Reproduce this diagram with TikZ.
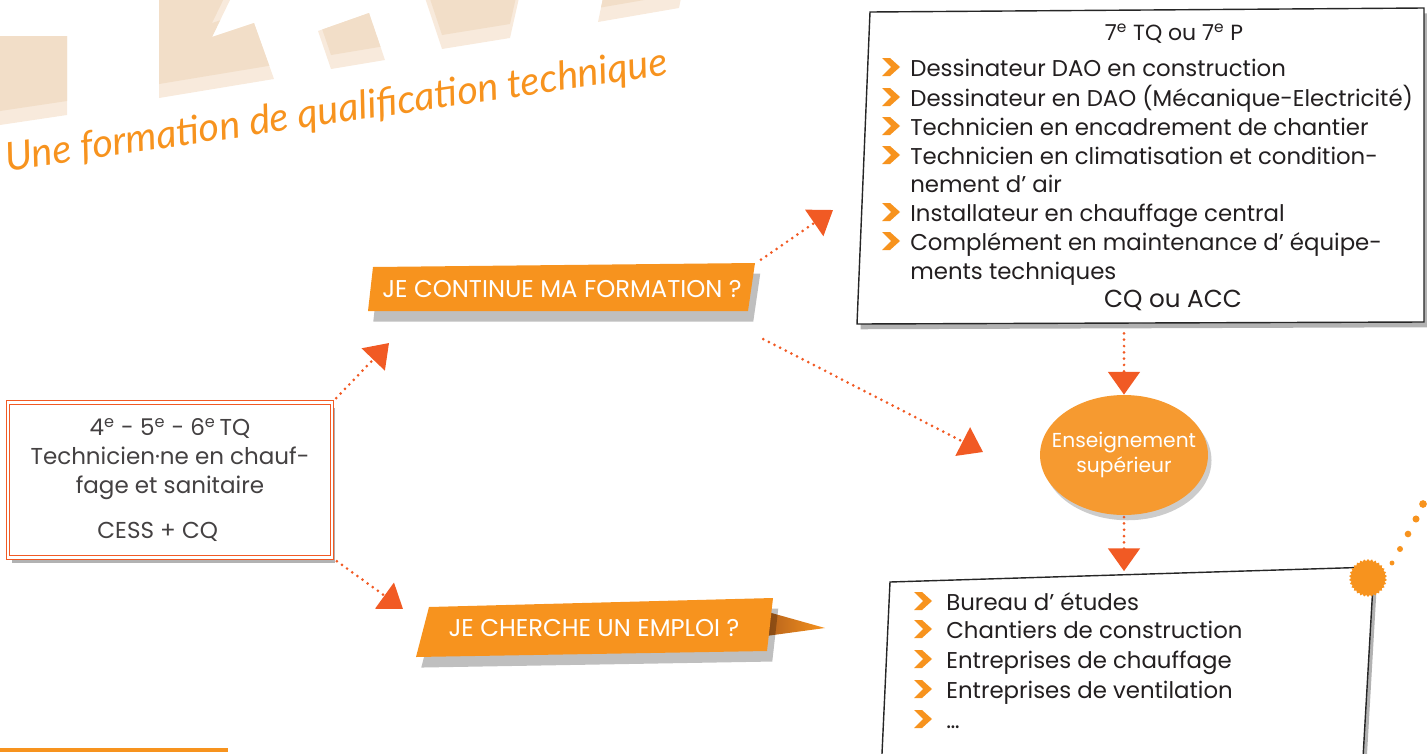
\documentclass[tikz,border=0pt]{standalone}
\usepackage{fontspec}
\setmainfont{Poppins}
\newfontfamily\mainlevee{Lato}
\usetikzlibrary{arrows.meta,shapes.geometric,shadows}

\definecolor{orangevif}{HTML}{F7931E}
\definecolor{orangerouge}{HTML}{F15A24}
\definecolor{orangebulle}{HTML}{F69A30}
\definecolor{beige}{HTML}{F2DEC8}
\definecolor{beigeclair}{HTML}{F8EADC}
\definecolor{encre}{HTML}{231F20}
\definecolor{brunqueue}{HTML}{B5621C}

%% tuile beige du fond, avec sa bande claire en bas
\newcommand{\tuile}[1]{%
  \fill[beigeclair] #1;
  \begin{scope}
    \clip #1;
    \fill[beige,shift={(0,-14)}] #1;
  \end{scope}}

\begin{document}
\begin{tikzpicture}
[x=0.02cm,y=-0.02cm,
 ombre/.style={drop shadow={shadow xshift=2pt,shadow yshift=-3pt,opacity=0.3,fill=black}},
 cadredouble/.style={draw=orangerouge,double=white,double distance=1.3pt,line width=0.7pt,
   fill=white,ombre,align=center,text=encre!85,inner sep=0pt},
 boite/.style={draw=black!85,line width=0.8pt,fill=white,ombre},
 bandeau/.style={fill=orangevif,drop shadow={shadow xshift=3pt,shadow yshift=-6pt,opacity=0.25,fill=black}},
 bandeautexte/.style={text=white,font=\fontsize{13.8}{16}\selectfont,inner sep=0pt},
 ligne/.style={anchor=base west,inner sep=0pt,text=encre,font=\fontsize{13}{15}\selectfont},
 centre/.style={anchor=base,inner sep=0pt,text=encre,font=\fontsize{12.5}{15}\selectfont},
 puce/.style={fill=orangevif},
 fleche/.style={draw=orangerouge,line width=1.7pt,line cap=round,dash pattern=on 0pt off 3.6pt,
   -{Triangle[width=18pt,length=13pt]},shorten <=3pt}]
\useasboundingbox (0,0) rectangle (1427,754);

%% fond : tuiles et titre
\tuile{(0,36)--(67,36)--(67,115)--(0,125)--cycle}
\tuile{(159,-2)--(231,-2)--(212,37)--(254,23)--(274,79)--(159,98)--cycle}
\tuile{(318,31)--(369,13)--(385,60)--(331,69)--cycle}
\tuile{(425,-2)--(519,-2)--(510,38)--(442,49)--cycle}
\tuile{(603,-2)--(681,-2)--(679,8)--(598,22)--cycle}
\node[anchor=base,rotate=8.3,inner sep=0pt,text=orangevif,
  font=\mainlevee\itshape\fontsize{22.5}{26}\selectfont] (titre) at (338,123)
  {Une formation de qualification technique};
\draw[orangevif,line width=2.3pt] (0,750) -- (228,750);

%% depart
\node[cadredouble,minimum width=6.48cm,minimum height=3.1cm,
  font=\fontsize{13.1}{16.5}\selectfont] (depart) at (170,480)
  {4\textsuperscript{e} - 5\textsuperscript{e} - 6\textsuperscript{e}\,TQ\\
   Technicien·ne en chauf-\\fage et sanitaire\\[9pt]CESS + CQ\kern14pt};

%% bandeaux
\fill[bandeau] (373,267) -- (755,263) -- (748,311) -- (368,311) -- cycle;
\node[bandeautexte,minimum width=7.6cm,minimum height=0.92cm] (continuer) at (562,289)
  {JE CONTINUE MA FORMATION ?};
\shade[left color=brunqueue,right color=orangevif] (768,612) -- (825,628) -- (766,636) -- cycle;
\fill[bandeau] (429,607) -- (773,598) -- (767,651) -- (416,657) -- cycle;
\node[bandeautexte] (chercher) at (594,628) {JE CHERCHE UN EMPLOI ?};

%% suite des etudes
\draw[boite] (870,12) -- (1424,8) -- (1424,322) -- (857,324) -- cycle;
\node[minimum width=11.34cm,minimum height=6.26cm,inner sep=0pt] (suite) at (1140,166) {};
\node[centre] (annee) at (1174,40) {7\textsuperscript{e} TQ ou 7\textsuperscript{e} P};
\foreach \y/\texte in {76/Dessinateur DAO en construction,
  106/Dessinateur en DAO (Mécanique-Electricité),
  135/Technicien en encadrement de chantier,
  164/Technicien en climatisation et condition-, 192/nement d’ air,
  221/Installateur en chauffage central,
  250/Complément en maintenance d’ équipe-, 279/ments techniques} {
  \node[ligne] (haut\y) at (910,\y) {\texte};
}
\foreach \y in {76,106,135,164,221,250}
  \fill[puce,shift={(891,\y-9)}] (-9,-9) -- (-1,-9) -- (9,0) -- (-1,9) -- (-9,9) -- (0,0) -- cycle;
\node[centre,font=\fontsize{14}{16}\selectfont] (titre2) at (1173,307) {CQ ou ACC};

%% enseignement superieur
\node[ellipse,fill=orangebulle,minimum width=3.36cm,minimum height=2.4cm,
  inner xsep=-7.5pt,inner ysep=0pt,
  drop shadow={shadow xshift=2pt,shadow yshift=-3pt,opacity=0.2,fill=black},
  text=white,align=center,font=\fontsize{11.5}{14}\selectfont] (sup) at (1124,455)
  {Enseignement\\supérieur};

%% debouches
\draw[boite] (890,582) -- (1374,567) -- (1362,775) -- (881,775) -- cycle;
\node[minimum width=9.7cm,minimum height=3.8cm,inner sep=0pt] (debouches) at (1127,670) {};
\foreach \y/\texte in {610/Bureau d’ études, 638/Chantiers de construction,
  668/Entreprises de chauffage, 698/Entreprises de ventilation, 728/{\ldots}} {
  \node[ligne] (bas\y) at (946,\y) {\texte};
  \fill[puce,shift={(923,\y-9)}] (-9,-9) -- (-1,-9) -- (9,0) -- (-1,9) -- (-9,9) -- (0,0) -- cycle;
}
\node[star,star points=30,star point ratio=1.12,fill=orangevif,minimum size=0.76cm,
  inner sep=0pt] (tache) at (1368,578) {};
\foreach \x/\y/\r in {1392/563/1.4, 1400/549/1.7, 1408/534/1.9, 1416/519/2.0, 1423/504/2.2}
  \fill[orangevif] (\x,\y) circle (\r pt);

%% fleches
\coordinate (versCont) at (389,343);
\coordinate (versEmploi) at (403,609);
\coordinate (versSuite) at (833,210);
\coordinate (versSup) at (983,452);
\draw[fleche] (depart.north east) -- (versCont);
\draw[fleche] (depart.south east) -- (versEmploi);
\draw[fleche,shorten <=6pt] (continuer.north east) -- (versSuite);
\draw[fleche,shorten <=7pt] ([yshift=-12pt]continuer.south east) -- (versSup);
\draw[fleche,shorten <=6pt] (sup.north |- suite.south) -- (sup.north);
\draw[fleche,shorten <=1pt,shorten >=2pt] (sup.south) -- (debouches.north -| sup.south);
\end{tikzpicture}
\end{document}
